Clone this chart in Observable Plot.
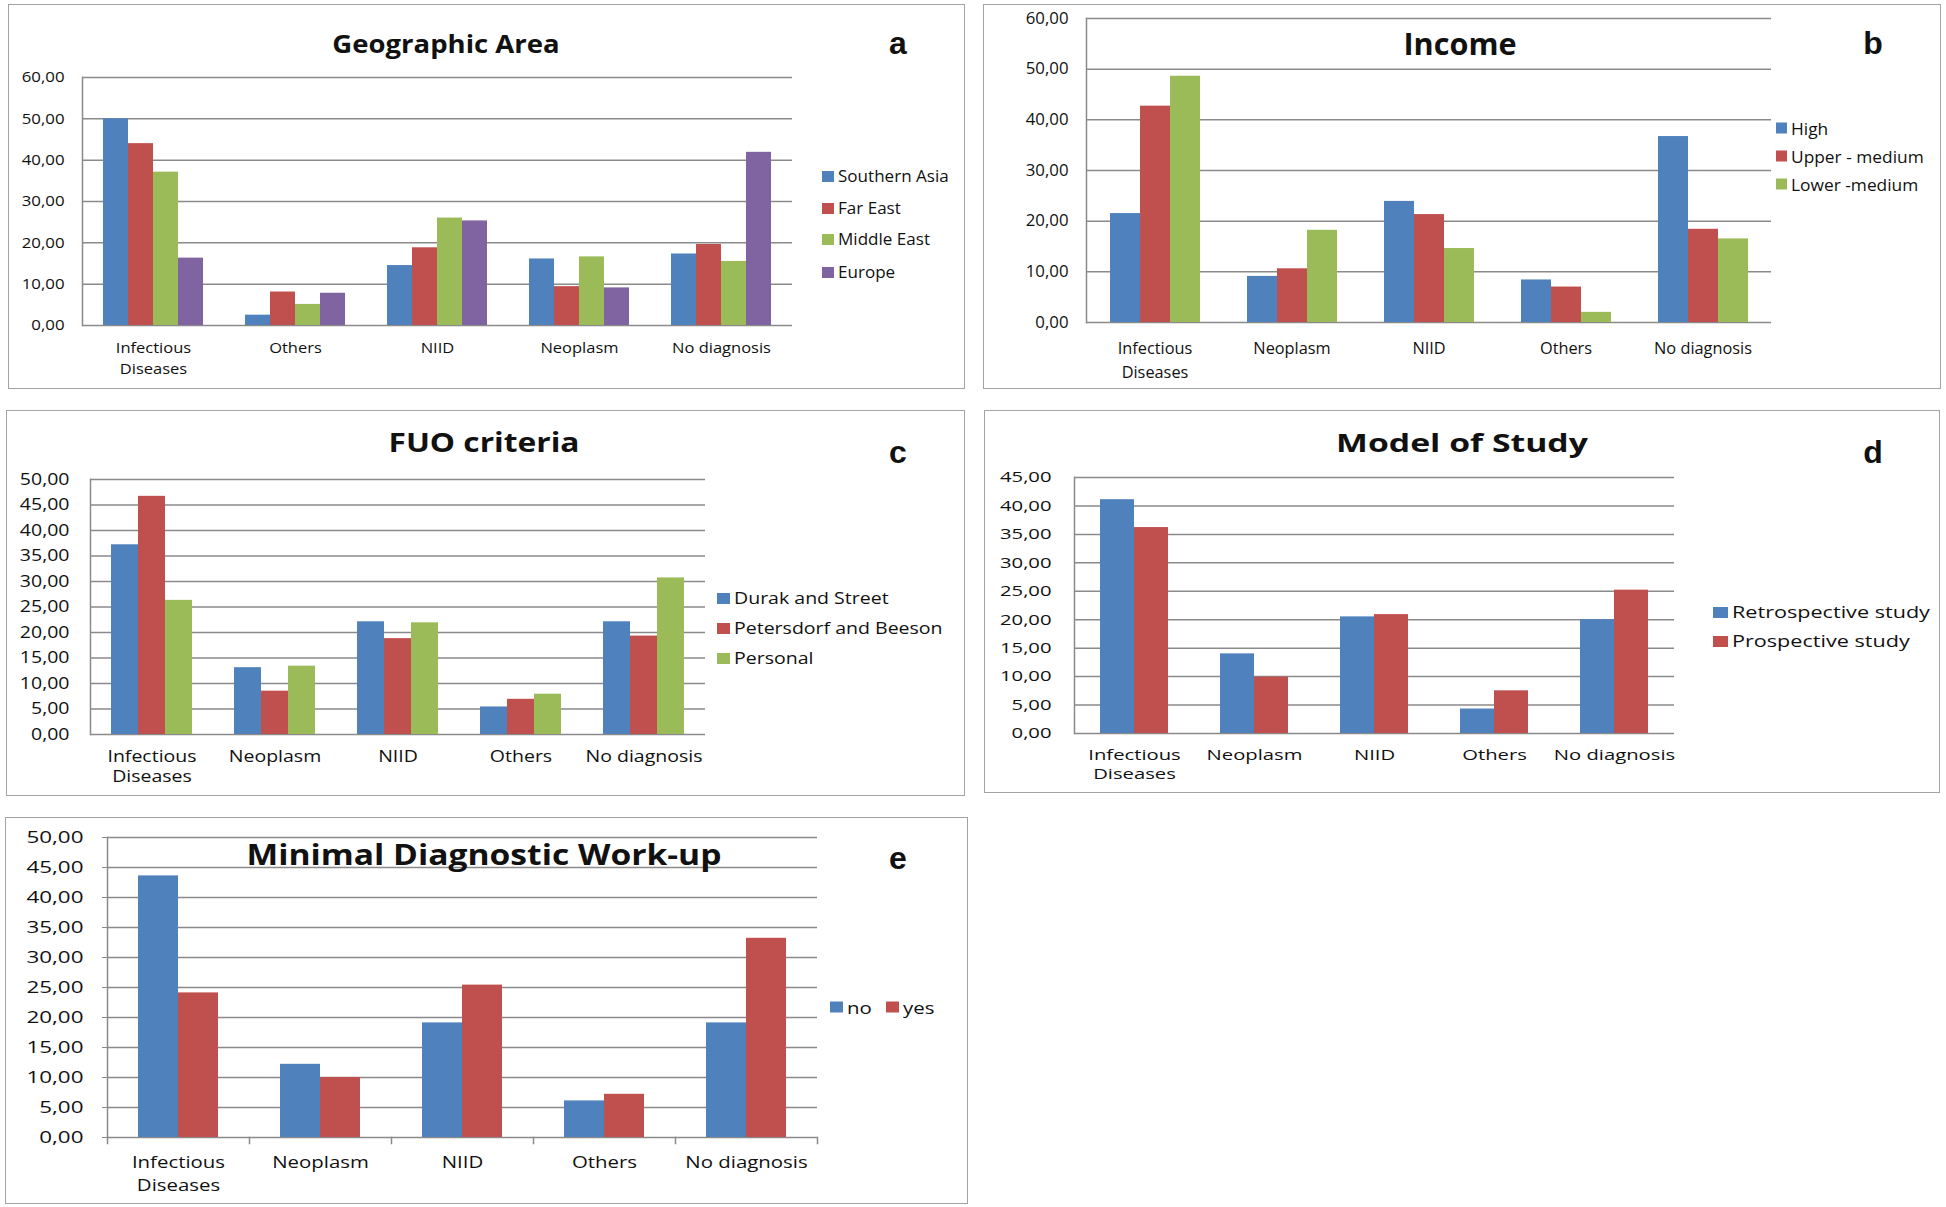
<!DOCTYPE html>
<html><head><meta charset="utf-8">
<script src="https://cdn.jsdelivr.net/npm/d3@7"></script>
<script src="https://cdn.jsdelivr.net/npm/@observablehq/plot@0.6"></script>
<style>
body{margin:0;background:#fff;}
#page{position:relative;width:1946px;height:1207px;overflow:hidden;font-family:"Open Sans",sans-serif;color:#111;background:#fff;}
.panel{position:absolute;}
.border{position:absolute;left:0;top:0;right:0;bottom:0;border:1.5px solid #a3a3a3;box-sizing:border-box;}
.panel svg{position:absolute;left:0;top:0;overflow:visible;}
.title{position:absolute;font-weight:700;white-space:nowrap;color:#111;}
.letter{position:absolute;font-family:"Liberation Sans",Arial,sans-serif;font-weight:700;transform:translate(-50%,-50%);color:#111;}
.item{position:absolute;display:flex;align-items:center;white-space:nowrap;transform:translateY(-50%);color:#111;}
.item .txt{display:inline-block;transform-origin:0 50%;}
</style></head><body><div id="page"></div>
<script>
// ---------- data ----------
const titleA = "Geographic Area";
const catsA = ["Infectious Diseases", "Others", "NIID", "Neoplasm", "No diagnosis"];
const seriesA = ["Southern Asia", "Far East", "Middle East", "Europe"];
const southernAsia = [50.0, 2.5, 14.5, 16.1, 17.3];
const farEast = [44.0, 8.1, 18.8, 9.4, 19.6];
const middleEast = [37.1, 5.1, 26.0, 16.6, 15.5];
const europe = [16.3, 7.8, 25.3, 9.1, 41.9];
const ticksA = [0, 10, 20, 30, 40, 50, 60];

const titleB = "Income";
const catsB = ["Infectious Diseases", "Neoplasm", "NIID", "Others", "No diagnosis"];
const seriesB = ["High", "Upper - medium", "Lower -medium"];
const high = [21.5, 9.1, 23.9, 8.4, 36.7];
const upperMedium = [42.7, 10.6, 21.3, 7.0, 18.4];
const lowerMedium = [48.6, 18.2, 14.6, 2.0, 16.5];
const ticksB = [0, 10, 20, 30, 40, 50, 60];

const titleC = "FUO criteria";
const catsC = ["Infectious Diseases", "Neoplasm", "NIID", "Others", "No diagnosis"];
const seriesC = ["Durak and Street", "Petersdorf and Beeson", "Personal"];
const durakStreet = [37.2, 13.1, 22.1, 5.4, 22.1];
const petersdorfBeeson = [46.7, 8.5, 18.8, 6.9, 19.3];
const personal = [26.3, 13.4, 21.9, 7.9, 30.7];
const ticksC = [0, 5, 10, 15, 20, 25, 30, 35, 40, 45, 50];

const titleD = "Model of Study";
const catsD = ["Infectious Diseases", "Neoplasm", "NIID", "Others", "No diagnosis"];
const seriesD = ["Retrospective study", "Prospective study"];
const retrospective = [41.1, 14.0, 20.5, 4.3, 20.0];
const prospective = [36.2, 9.9, 20.9, 7.5, 25.2];
const ticksD = [0, 5, 10, 15, 20, 25, 30, 35, 40, 45];

const titleE = "Minimal Diagnostic Work-up";
const catsE = ["Infectious Diseases", "Neoplasm", "NIID", "Others", "No diagnosis"];
const seriesE = ["no", "yes"];
const workupNo = [43.6, 12.2, 19.1, 6.1, 19.1];
const workupYes = [24.1, 10.0, 25.4, 7.2, 33.2];
const ticksE = [0, 5, 10, 15, 20, 25, 30, 35, 40, 45, 50];

const palette = ["#4F81BD", "#C0504D", "#9BBB59", "#8064A2"];
const gridColor = "#8a8a8a";

// ---------- layout (page coordinates) ----------
const panels = [
  {title: titleA, letter: "a", cats: catsA, series: seriesA, values: [southernAsia, farEast, middleEast, europe], ticks: ticksA,
   box: {x: 8, y: 4, w: 957, h: 385}, plot: {l: 82, r: 792, t: 77, b: 325},
   titlePos: {x: 446, y: 43, size: 25}, letterPos: {x: 898, y: 43},
   legend: {pos: [[822, 176], [822, 208], [822, 239], [822, 272]], size: 15.5},
   k: 1.1, kt: 1.12, tickFont: 15, tickGap: 18, yTickSize: 0, catFont: 15, catPad: 13, catLH: 1.37, xTicks: false},
  {title: titleB, letter: "b", cats: catsB, series: seriesB, values: [high, upperMedium, lowerMedium], ticks: ticksB,
   box: {x: 983, y: 4, w: 958, h: 385}, plot: {l: 1085, r: 1771, t: 18, b: 322},
   titlePos: {x: 1460, y: 43, size: 30}, letterPos: {x: 1873, y: 43},
   legend: {pos: [[1776, 128], [1776, 156], [1776, 184]], size: 17},
   k: 1.02, kt: 1.05, tickFont: 16, tickGap: 18, yTickSize: 0, catFont: 16, catPad: 14, catLH: 1.5, xTicks: false},
  {title: titleC, letter: "c", cats: catsC, series: seriesC, values: [durakStreet, petersdorfBeeson, personal], ticks: ticksC,
   box: {x: 6, y: 410, w: 959, h: 386}, plot: {l: 90, r: 705, t: 479, b: 734},
   titlePos: {x: 484, y: 442, size: 26}, letterPos: {x: 898, y: 452},
   legend: {pos: [[717, 598], [717, 628], [717, 658]], size: 16},
   k: 1.22, kt: 1.22, tickFont: 16, tickGap: 21, yTickSize: 0, catFont: 16, catPad: 13, catLH: 1.25, xTicks: false},
  {title: titleD, letter: "d", cats: catsD, series: seriesD, values: [retrospective, prospective], ticks: ticksD,
   box: {x: 984, y: 410, w: 956, h: 383}, plot: {l: 1073, r: 1675, t: 477, b: 733},
   titlePos: {x: 1462, y: 442, size: 25}, letterPos: {x: 1873, y: 452},
   legend: {pos: [[1713, 612], [1713, 641]], size: 16},
   k: 1.35, kt: 1.35, tickFont: 15, tickGap: 23, yTickSize: 0, catFont: 15, catPad: 13, catLH: 1.27, xTicks: false},
  {title: titleE, letter: "e", cats: catsE, series: seriesE, values: [workupNo, workupYes], ticks: ticksE,
   box: {x: 5, y: 817, w: 963, h: 387}, plot: {l: 106, r: 818, t: 837, b: 1137},
   titlePos: {x: 484, y: 854, size: 28}, letterPos: {x: 898, y: 858},
   legend: {pos: [[830, 1007], [886, 1007]], size: 17},
   k: 1.2, kt: 1.32, tickFont: 17, tickGap: 24, yTickSize: 5, catFont: 17, catPad: 14, catLH: 1.35, xTicks: true}
];

const fmt = v => d3.format(".2f")(v).replace(".", ",");
const page = document.getElementById("page");

for (const p of panels) {
  const div = document.createElement("div");
  div.className = "panel";
  Object.assign(div.style, {left: p.box.x + "px", top: p.box.y + "px", width: p.box.w + "px", height: p.box.h + "px"});
  page.appendChild(div);
  const border = document.createElement("div");
  border.className = "border";
  div.appendChild(border);

  const data = [];
  p.series.forEach((s, i) => p.cats.forEach((c, j) => data.push({cat: c, series: s, value: p.values[i][j]})));
  const colors = palette.slice(0, p.series.length);
  const plotH = p.plot.b - p.plot.t;
  const marks = [
    Plot.gridY(p.ticks, {stroke: gridColor, strokeOpacity: 1, strokeWidth: 1.5}),
    Plot.barY(data, {fx: "cat", x: "series", y: "value", fill: "series"}),
    Plot.frame({anchor: "left", facetAnchor: "left", stroke: gridColor, strokeOpacity: 1, strokeWidth: 1.5}),
    Plot.axisY(p.ticks, {tickFormat: fmt, tickSize: p.yTickSize, tickPadding: p.tickGap - p.yTickSize, fontSize: p.tickFont, stroke: gridColor, strokeOpacity: 1, label: null}),
    Plot.axisFx({anchor: "bottom", tickSize: 0, tickPadding: p.catPad, fontSize: p.catFont, lineHeight: p.catLH, label: null,
                 tickFormat: d => d.replace("Infectious ", "Infectious\n")})
  ];
  if (p.xTicks) {
    marks.push(Plot.frame({anchor: "left", insetTop: plotH, insetBottom: -6, stroke: gridColor, strokeOpacity: 1, strokeWidth: 1.5}));
    marks.push(Plot.frame({anchor: "right", facetAnchor: "right", insetTop: plotH, insetBottom: -6, stroke: gridColor, strokeOpacity: 1, strokeWidth: 1.5}));
  }
  const svg = Plot.plot({
    width: p.box.w, height: p.box.h,
    marginLeft: p.plot.l - p.box.x, marginRight: p.box.x + p.box.w - p.plot.r,
    marginTop: p.plot.t - p.box.y, marginBottom: p.box.y + p.box.h - p.plot.b,
    style: {fontFamily: "'Open Sans', sans-serif", color: "#111", background: "transparent", overflow: "visible"},
    fx: {domain: p.cats, padding: 0, label: null},
    x: {domain: p.series, paddingInner: 0, paddingOuter: 0.75, axis: null},
    y: {domain: [0, d3.max(p.ticks)], label: null},
    color: {domain: p.series, range: colors},
    marks
  });
  // horizontal stretch of tick labels (font styling), around each label's own anchor
  svg.querySelectorAll('g[aria-label="fx-axis tick label"] text').forEach(t => {
    t.setAttribute("transform", (t.getAttribute("transform") || "") + ` scale(${p.k},1)`);
  });
  svg.querySelectorAll('g[aria-label="y-axis tick label"] text').forEach(t => {
    t.setAttribute("transform", (t.getAttribute("transform") || "") + ` scale(${p.kt},1)`);
  });
  div.appendChild(svg);

  const t = document.createElement("div");
  t.className = "title";
  t.textContent = p.title;
  Object.assign(t.style, {left: (p.titlePos.x - p.box.x) + "px", top: (p.titlePos.y - p.box.y) + "px",
    fontSize: p.titlePos.size + "px", transform: `translate(-50%,-50%) scaleX(${p.k})`});
  div.appendChild(t);

  const l = document.createElement("div");
  l.className = "letter";
  l.textContent = p.letter;
  Object.assign(l.style, {left: (p.letterPos.x - p.box.x) + "px", top: (p.letterPos.y - p.box.y) + "px", fontSize: "32px"});
  div.appendChild(l);

  p.series.forEach((s, i) => {
    const [lx, ly] = p.legend.pos[i];
    const it = document.createElement("div");
    it.className = "item";
    Object.assign(it.style, {left: (lx - p.box.x) + "px", top: (ly - p.box.y) + "px", fontSize: p.legend.size + "px"});
    const sw = document.createElement("span");
    Object.assign(sw.style, {display: "inline-block", width: Math.round(11 * p.k) + "px", height: "11px", background: colors[i], marginRight: "4px"});
    const tx = document.createElement("span");
    tx.className = "txt";
    tx.textContent = s;
    tx.style.transform = `scaleX(${p.k})`;
    it.appendChild(sw); it.appendChild(tx);
    div.appendChild(it);
  });
}
</script></body></html>
